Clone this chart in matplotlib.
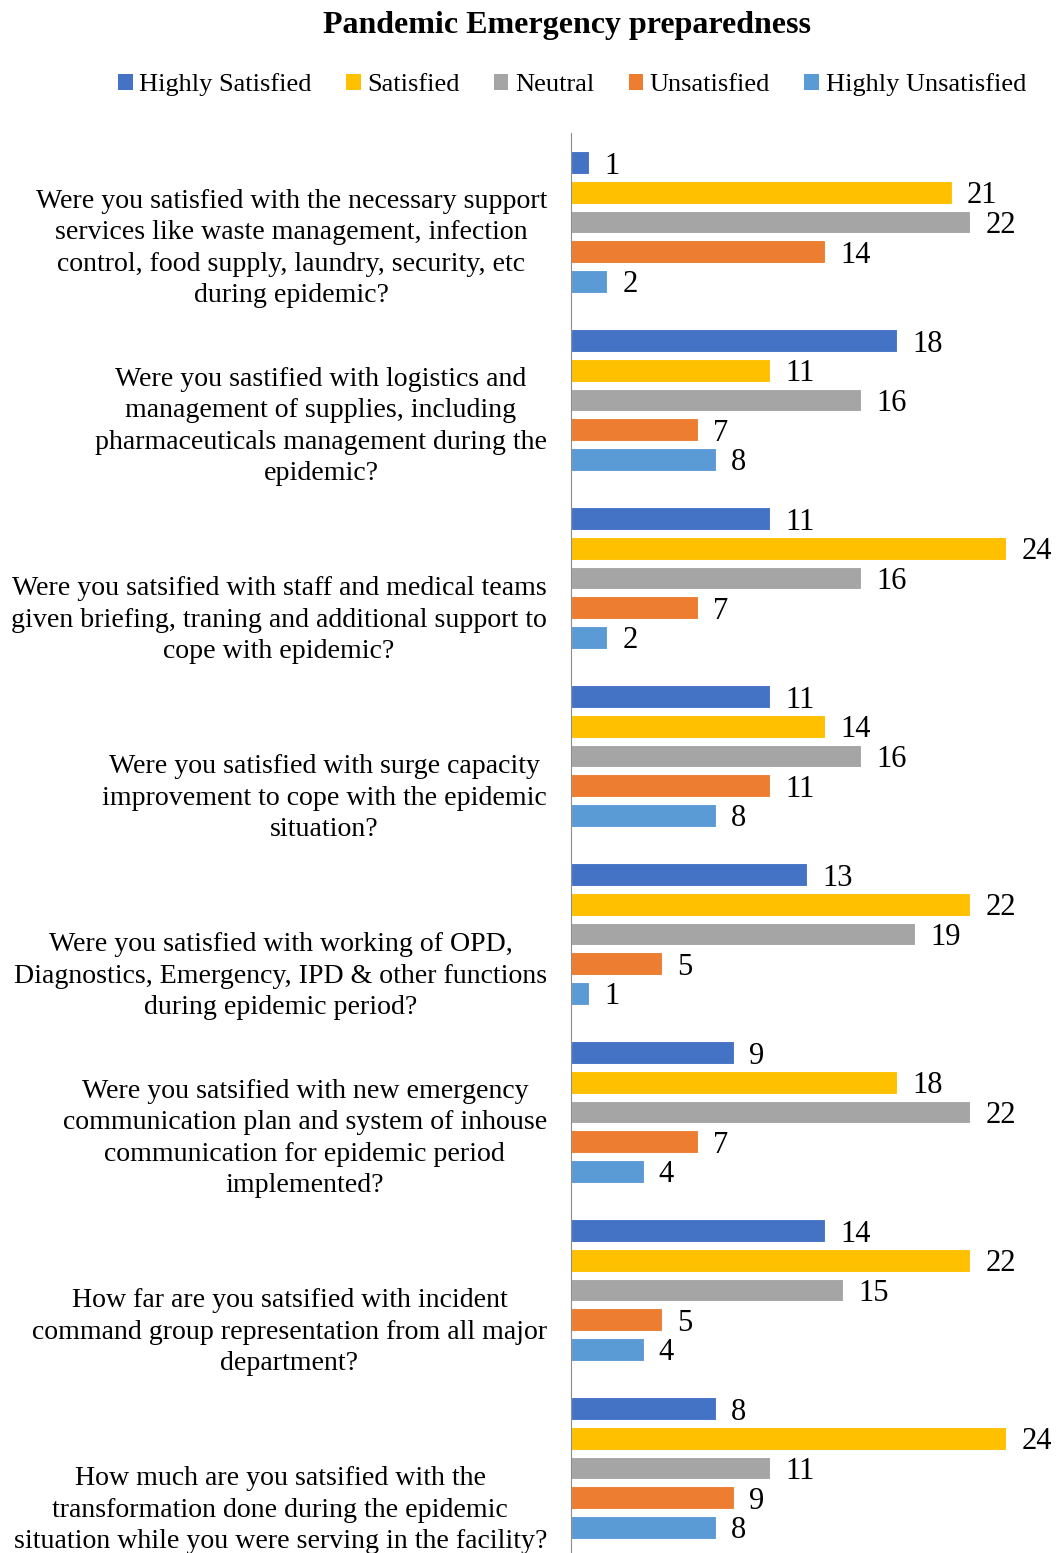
import matplotlib
matplotlib.use("Agg")
import matplotlib.pyplot as plt
from matplotlib.patches import Patch

# * Data
questions = [
    "Were you satisfied with the necessary support\nservices like waste management, infection\ncontrol, food supply, laundry, security, etc\nduring epidemic?",
    "Were you sastified with logistics and\nmanagement of supplies, including\npharmaceuticals management during the\nepidemic?",
    "Were you satsified with staff and medical teams\ngiven briefing, traning and additional support to\ncope with epidemic?",
    "Were you satisfied with surge capacity\nimprovement to cope with the epidemic\nsituation?",
    "Were you satisfied with working of OPD,\nDiagnostics, Emergency, IPD & other functions\nduring epidemic period?",
    "Were you satsified with new emergency\ncommunication plan and system of inhouse\ncommunication for epidemic period\nimplemented?",
    "How far are you satsified with incident\ncommand group representation from all major\ndepartment?",
    "How much are you satsified with the\ntransformation done during the epidemic\nsituation while you were serving in the facility?",
]
series = ["Highly Satisfied", "Satisfied", "Neutral", "Unsatisfied", "Highly Unsatisfied"]
highly_satisfied = [1, 18, 11, 11, 13, 9, 14, 8]
satisfied = [21, 11, 24, 14, 22, 18, 22, 24]
neutral = [22, 16, 16, 16, 19, 22, 15, 11]
unsatisfied = [14, 7, 7, 11, 5, 7, 5, 9]
highly_unsatisfied = [2, 8, 2, 8, 1, 4, 4, 8]
colors = ["#4472C4", "#FFC000", "#A5A5A5", "#ED7D31", "#5B9BD5"]

plt.rcParams['font.family'] = ['Liberation Serif', 'DejaVu Serif']

W, H = 1059, 1553
fig = plt.figure(figsize=(W / 100, H / 100), dpi=100)
ax = fig.add_axes([571 / W, -4 / H, 1 - 571 / W, (1557 - 133) / H])

all_vals = [highly_satisfied, satisfied, neutral, unsatisfied, highly_unsatisfied]
for k, (name, vals, c) in enumerate(zip(series, all_vals, colors)):
    ys = [g * 6 + 1 + k for g in range(len(questions))]
    ax.barh(ys, vals, height=0.76, color=c, edgecolor='white', linewidth=0.8)
    for y, v in zip(ys, vals):
        ax.annotate(str(v), (v, y), xytext=(11, -2.5), textcoords='offset points',
                    va='center', ha='left', fontsize=22)

for g, q in enumerate(questions):
    ax.text(-24 / 18.13, g * 6 + 5.9, q, ha='right', va='bottom',
            multialignment='center', fontsize=20.1, linespacing=1.33)

ax.set_xlim(0, 488 / 18.13)
ax.set_ylim(48, 0)
for s in ['top', 'right', 'bottom']:
    ax.spines[s].set_visible(False)
ax.spines['left'].set_color('#8c8c8c')
ax.set_xticks([])
ax.set_yticks([])

fig.text(567 / W, 1 - 25 / H, "Pandemic Emergency preparedness", ha='center', va='center',
         fontsize=23, fontweight='bold')
handles = [Patch(facecolor=c, label=n) for n, c in zip(series, colors)]
fig.legend(handles=handles, loc='center', bbox_to_anchor=(572 / W, 1 - 85 / H), ncol=5,
           frameon=False, fontsize=19, handlelength=0.55, handleheight=0.55,
           handletextpad=0.25, columnspacing=1.3)

fig.savefig("out.png", dpi=100)
